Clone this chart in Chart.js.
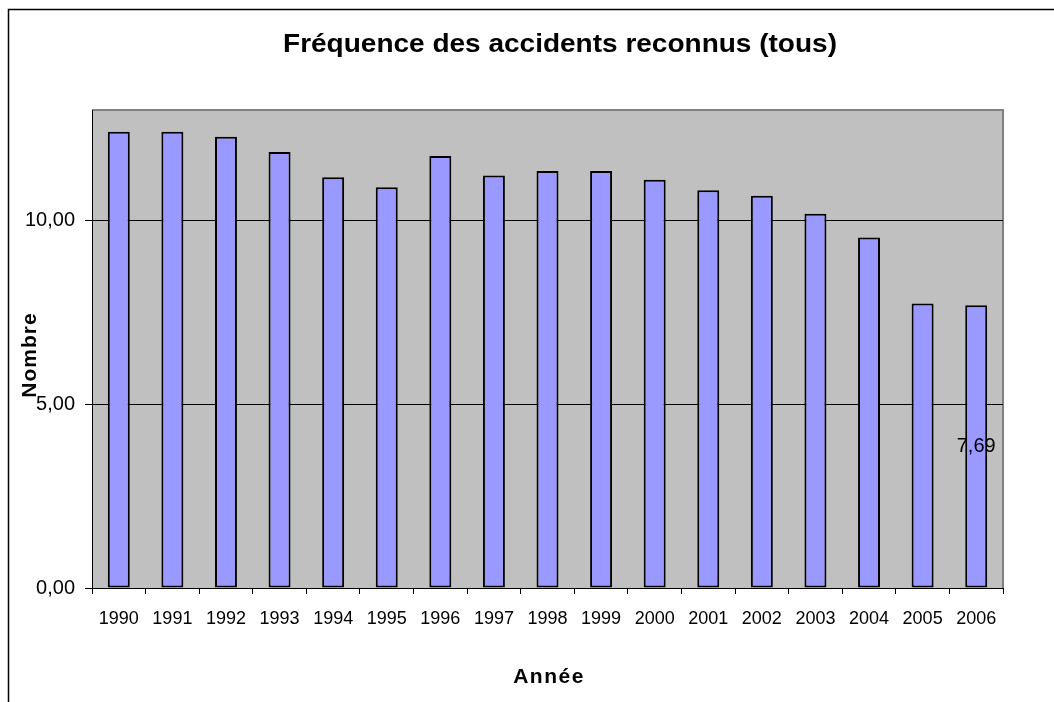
<!DOCTYPE html>
<html>
<head>
<meta charset="utf-8">
<script src="https://cdn.jsdelivr.net/npm/chart.js@4.4.0/dist/chart.umd.min.js"></script>
<style>
  html, body { margin: 0; padding: 0; background: #fff; }
  #wrap { width: 1054px; height: 702px; }
</style>
</head>
<body>
<div id="wrap"><canvas id="freqChart" width="1054" height="702"></canvas></div>
<script>
const annees = ["1990", "1991", "1992", "1993", "1994", "1995", "1996", "1997", "1998",
                "1999", "2000", "2001", "2002", "2003", "2004", "2005", "2006"];
const frequences = [12.41, 12.41, 12.27, 11.86, 11.17, 10.90, 11.75, 11.22, 11.34,
                    11.34, 11.10, 10.82, 10.67, 10.18, 9.53, 7.74, 7.69];
const graduations = [0, 5, 10];
const titre = "Fréquence des accidents reconnus (tous)";
const titreX = "Année";
const titreY = "Nombre";

const police = "'Liberation Sans', Arial, sans-serif";
const virgule = v => v.toFixed(2).replace(".", ",");

// cadre, fond gris, titres, étiquette de la dernière barre
const decor = {
  id: "decor",
  beforeDraw(chart) {
    const c = chart.ctx, a = chart.chartArea;
    c.save();
    c.fillStyle = "#fff";
    c.fillRect(0, 0, chart.width, chart.height);
    c.strokeStyle = "#000";
    c.lineWidth = 1.5;
    c.beginPath();
    c.moveTo(8.5, chart.height);
    c.lineTo(8.5, 9.5);
    c.lineTo(chart.width, 9.5);
    c.stroke();
    c.fillStyle = "#C0C0C0";
    c.fillRect(a.left, a.top, a.right - a.left, a.bottom - a.top);
    c.strokeStyle = "#808080";
    c.lineWidth = 2;
    c.beginPath();
    c.moveTo(a.left, a.top);
    c.lineTo(a.right, a.top);
    c.lineTo(a.right, a.bottom);
    c.stroke();
    c.restore();
  },
  afterDatasetsDraw(chart) {
    const c = chart.ctx;
    const bar = chart.getDatasetMeta(0).data[frequences.length - 1];
    c.save();
    c.fillStyle = "#000";
    c.font = "20px " + police;
    c.textAlign = "center";
    c.textBaseline = "middle";
    c.fillText(virgule(frequences[frequences.length - 1]), bar.x, (bar.y + bar.base) / 2);
    c.restore();
  },
  afterDraw(chart) {
    const c = chart.ctx;
    c.save();
    c.fillStyle = "#000";
    c.textAlign = "center";
    c.textBaseline = "alphabetic";
    // titre principal, un peu étiré comme dans l'original
    c.font = "bold 25px " + police;
    c.translate(560, 52);
    c.scale(1.12, 1);
    c.fillText(titre, 0, 0);
    c.setTransform(1, 0, 0, 1, 0, 0);
    c.font = "bold 21px " + police;
    c.letterSpacing = "1.5px";
    c.fillText(titreX, 549, 683);
    c.letterSpacing = "1px";
    c.translate(36, 355);
    c.rotate(-Math.PI / 2);
    c.fillText(titreY, 0, 0);
    c.restore();
  }
};

new Chart(document.getElementById("freqChart"), {
  type: "bar",
  data: {
    labels: annees,
    datasets: [{
      label: "Fréquence",
      data: frequences,
      backgroundColor: "#9999FF",
      borderColor: "#000",
      borderWidth: 2,
      borderSkipped: false,
      categoryPercentage: 1,
      barPercentage: 0.41
    }]
  },
  options: {
    responsive: false,
    animation: false,
    layout: { padding: { left: 0, right: 51, top: 110, bottom: 0 } },
    plugins: {
      legend: { display: false },
      tooltip: { enabled: false },
      title: { display: false }
    },
    scales: {
      x: {
        grid: { drawOnChartArea: false, drawTicks: true, tickLength: 6, color: "#000", lineWidth: 1 },
        border: { color: "#000", width: 1 },
        ticks: { color: "#000", font: { family: police, size: 18 }, padding: 14, maxRotation: 0, autoSkip: false },
        afterFit(s) { s.height = 114; }
      },
      y: {
        min: 0,
        max: 13,
        afterBuildTicks(s) { s.ticks = graduations.map(v => ({ value: v })); },
        grid: { color: "#000", lineWidth: 1, tickLength: 7 },
        border: { color: "#000", width: 1 },
        ticks: {
          color: "#000",
          font: { family: police, size: 20 },
          padding: 10,
          callback: v => virgule(v)
        },
        afterFit(s) { s.width = 92; }
      }
    }
  },
  plugins: [decor]
});
</script>
</body>
</html>
